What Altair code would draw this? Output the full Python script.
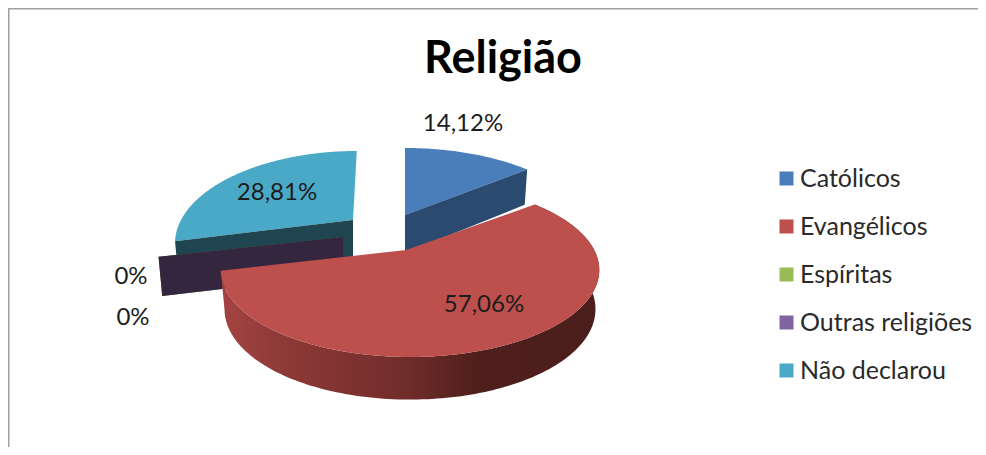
import math
import altair as alt
import pandas as pd

categories = ["Católicos", "Evangélicos", "Espíritas", "Outras religiões", "Não declarou"]
values = [14.12, 57.06, 0.0, 0.0, 28.81]
value_labels = ["14,12%", "57,06%", "0%", "0%", "28,81%"]
top_colors = ["#4a7ebb", "#bd4f4c", "#9bbb59", "#8064a2", "#4aa9c6"]
wall_colors = ["#2a4a70", "#7a2f2d", "#5c7034", "#35263f", "#1f4550"]

# Placement of each exploded slice on the picture
# (apex x, apex y, x scale, y scale, shear, rim centre shift)
placement = [
    (405, 215, 0.965, 1.00, 0.00, 0),
    (406, 250, 0.985, 1.00, 0.00, 4),
    (343, 237, 0.96, 0.96, 0.00, 0),
    (343, 237, 0.96, 0.96, 0.00, 0),
    (353, 220, 0.92, 1.03, 0.055, 0),
]
label_pos = [(463, 124), (484, 305), (131, 277), (133, 318), (277, 193)]

A, B, K = 187.0, 82.4, 0.23
THICK = 38.0


def project(angle, p, r=1.0):
    cx, cy, sx, sy, shear, shift = p
    X, Y = math.sin(angle) * r, math.cos(angle) * r
    s = 1 / (1 + K * Y)
    dy = B * Y * s * sy
    return cx + shift + A * X * s * sx + shear * dy, cy - dy


def lower(pt, angle, p, r=1.0):
    cx = p[0] + p[5]
    Y = math.cos(angle) * r
    return cx + (pt[0] - cx) * 0.98, pt[1] + THICK * (1 - 0.12 * Y)


total = sum(values)
tops, walls, sides = [], [], []
start = 0.0
for i, (c, v) in enumerate(zip(categories, values)):
    a0 = start / total * 2 * math.pi
    a1 = (start + v) / total * 2 * math.pi
    start += v
    p = placement[i]
    n = max(2, int(v * 3))
    arc = [a0 + (a1 - a0) * k / n for k in range(n + 1)]
    pts = [(p[0], p[1])] + [project(a, p) for a in arc]
    tops += [dict(cat=c, o=k, x=x, y=y) for k, (x, y) in enumerate(pts)]
    if c == "Evangélicos":
        rim = [project(a, p) for a in arc]
        low = [lower(project(a, p), a, p) for a in arc]
        outline = rim + low[::-1]
        sides += [dict(cat=c, o=k, x=x, y=y) for k, (x, y) in enumerate(outline)]
    else:
        a = a1 if c == "Católicos" else a0
        e = project(a, p)
        ap = (p[0], p[1])
        lap = (p[0], p[1] + THICK)
        le = lower(e, a, p)
        walls += [dict(cat=c, o=k, x=x, y=y, w=wall_colors[i])
                  for k, (x, y) in enumerate([ap, e, le, lap])]

tops_df = pd.DataFrame(tops)
walls_df = pd.DataFrame(walls)
sides_df = pd.DataFrame(sides)
labels_df = pd.DataFrame({
    "label": value_labels,
    "x": [q[0] for q in label_pos],
    "y": [q[1] for q in label_pos],
})

xs = alt.Scale(domain=[8, 978], nice=False, zero=False)
ys = alt.Scale(domain=[447, 8], nice=False, zero=False)
X = alt.X("x:Q", scale=xs, axis=None)
Y = alt.Y("y:Q", scale=ys, axis=None)

FONT = "Lato"


def wall_layer(names):
    d = walls_df[walls_df.cat.isin(names)]
    return alt.Chart(d).mark_line(filled=True, strokeWidth=0).encode(
        x=X, y=Y, order="o:Q", detail="cat:N",
        fill=alt.Fill("w:N", scale=None),
    )


def top_layer(names, legend=None):
    d = tops_df[tops_df.cat.isin(names)]
    return alt.Chart(d).mark_line(filled=True, strokeWidth=0).encode(
        x=X, y=Y, order="o:Q", detail="cat:N",
        fill=alt.Fill("cat:N",
                      scale=alt.Scale(domain=categories, range=top_colors),
                      legend=legend),
    )


legend = alt.Legend(
    title=None, orient="none", legendX=766, legendY=158,
    symbolType="square", symbolSize=196, symbolStrokeWidth=0,
    labelFont=FONT, labelFontSize=25, labelFontWeight="normal", labelColor="#2a2a2a",
    labelOffset=1, rowPadding=22, values=categories, labelLimit=220,
)

side_fill = alt.Gradient(
    gradient="linear", x1=0, x2=1, y1=0, y2=0,
    stops=[
        alt.GradientStop(offset=0.0, color="#a54442"),
        alt.GradientStop(offset=0.15, color="#8f3a38"),
        alt.GradientStop(offset=0.48, color="#722d2b"),
        alt.GradientStop(offset=0.68, color="#4f1f1c"),
        alt.GradientStop(offset=1.0, color="#4a1e1c"),
    ],
)

side = alt.Chart(sides_df).mark_line(filled=True, fill=side_fill, strokeWidth=0).encode(
    x=X, y=Y, order="o:Q"
)

labels = alt.Chart(labels_df).mark_text(
    font=FONT, fontSize=24, color="#1c1c1c", align="center", baseline="middle"
).encode(x=X, y=Y, text="label:N")

frame_l = alt.Chart(labels_df.head(1)).mark_rule(color="#a0a0a0", strokeWidth=2).encode(
    x=alt.value(0.5), y=alt.value(0), y2=alt.value(439)
)
frame_t = alt.Chart(labels_df.head(1)).mark_rule(color="#a0a0a0", strokeWidth=2).encode(
    y=alt.value(0.5), x=alt.value(0), x2=alt.value(970)
)

chart = alt.layer(
    frame_l, frame_t,
    top_layer(["Não declarou"], legend=legend),
    wall_layer(["Não declarou"]),
    wall_layer(["Outras religiões", "Espíritas"]),
    top_layer(["Católicos"]),
    wall_layer(["Católicos"]),
    side,
    top_layer(["Evangélicos", "Espíritas", "Outras religiões"]),
    labels,
).resolve_scale(fill="independent").properties(
    width=970, height=439, padding=0, autosize=alt.AutoSizeParams(type="none"),
    background="white",
    title=alt.TitleParams(
        "Religião", font=FONT, fontSize=45, fontWeight="bold", color="#000000",
        anchor="start", dx=417, offset=-75, baseline="top",
    ),
).configure_view(stroke=None)

chart.save("out.html", embed_options={"renderer": "svg", "actions": False})
